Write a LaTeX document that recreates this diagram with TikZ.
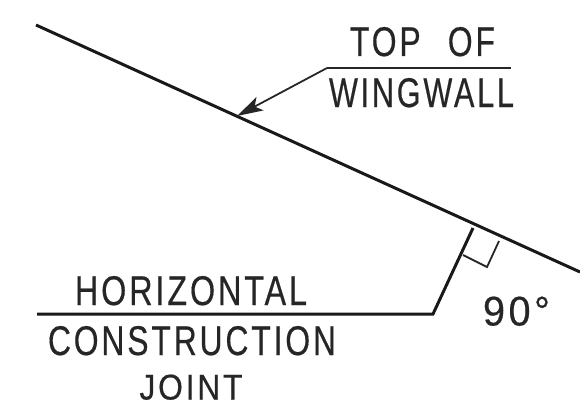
\documentclass[tikz,border=0pt]{standalone}
\usepackage{fontspec}
\setmainfont[LetterSpace=9,FakeBold=0.5]{Liberation Sans}
\usetikzlibrary{arrows.meta}
\tikzset{
  x=1pt,y=-1pt,
  heavy/.style={line width=3pt,draw=black!90,line join=miter},
  thin line/.style={line width=1.8pt,draw=black!85},
  cad/.style={inner sep=0pt,outer sep=0pt,anchor=base,text=black!85},
}
\newcommand{\cadtext}[3]{\resizebox{#1pt}{#2pt}{#3}}
\begin{document}
\begin{tikzpicture}
\useasboundingbox (0,0) rectangle (580,404);
\coordinate (wallA) at (36,25);
\coordinate (wallB) at (580,272);
\coordinate (tip) at (237,116);
\coordinate (elbow) at (327,68);
\coordinate (shelfEnd) at (511,68);
\coordinate (jointStart) at (37,314);
\coordinate (jointBend) at (433,314);
\coordinate (jointTop) at (473,228);
\coordinate (sqA) at (463,255);
\coordinate (sqB) at (487,267);
\coordinate (sqC) at (499,241);
\draw[heavy] (wallA) -- (wallB);
\draw[heavy] (jointStart) -- (jointBend) -- (jointTop);
\draw[thin line] (shelfEnd) -- (elbow);
\draw[thin line,-{Stealth[length=26pt,width=15pt,inset=6pt]}] (elbow) -- (tip);
\draw[thin line] (sqA) -- (sqB) -- (sqC);
\node[cad] (top) at (422.5,56) {\cadtext{145}{29}{TOP\hspace{0.85em}OF}};
\node[cad] (wing) at (421.5,107) {\cadtext{185}{29}{WINGWALL}};
\node[cad] (hor) at (191,305) {\cadtext{232}{29}{HORIZONTAL}};
\node[cad] (con) at (192,355) {\cadtext{288}{29}{CONSTRUCTION}};
\node[cad] (joi) at (191,399.5) {\cadtext{103}{25}{JOINT}};
\node[cad] (deg) at (516.5,325.5) {\cadtext{67}{29}{90°}};
\end{tikzpicture}
\end{document}
